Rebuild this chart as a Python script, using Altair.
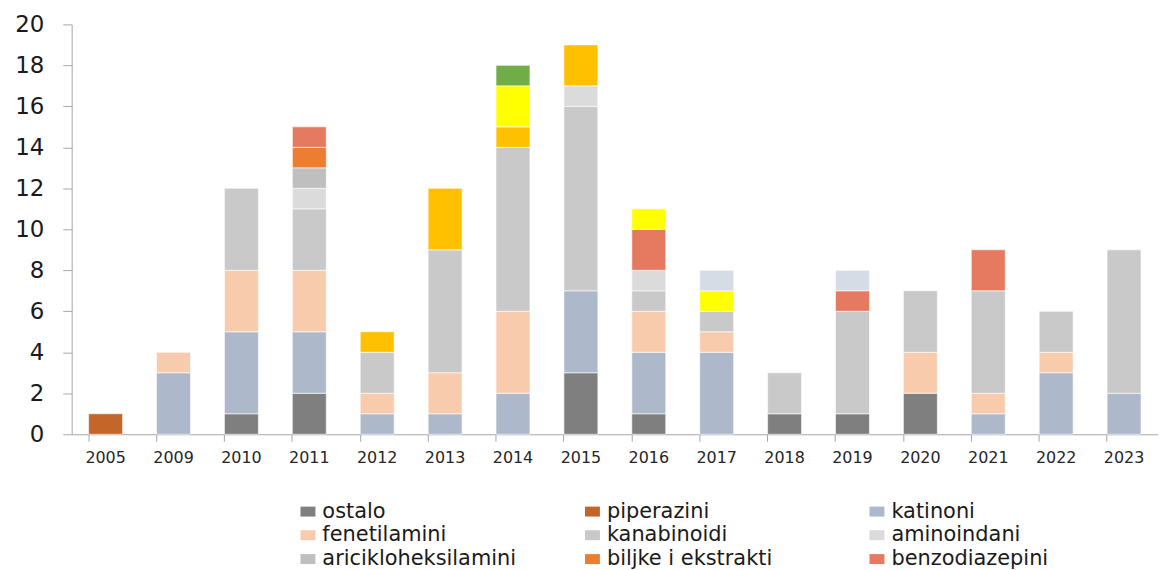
import altair as alt
import pandas as pd

years = ["2005", "2009", "2010", "2011", "2012", "2013", "2014", "2015",
         "2016", "2017", "2018", "2019", "2020", "2021", "2022", "2023"]

ostalo          = [0, 0, 1, 2, 0, 0, 0, 3, 1, 0, 1, 1, 2, 0, 0, 0]
piperazini      = [1, 0, 0, 0, 0, 0, 0, 0, 0, 0, 0, 0, 0, 0, 0, 0]
katinoni        = [0, 3, 4, 3, 1, 1, 2, 4, 3, 4, 0, 0, 0, 1, 3, 2]
fenetilamini    = [0, 1, 3, 3, 1, 2, 4, 0, 2, 1, 0, 0, 2, 1, 1, 0]
kanabinoidi     = [0, 0, 4, 3, 2, 6, 8, 9, 1, 1, 2, 5, 3, 5, 2, 7]
aminoindani     = [0, 0, 0, 1, 0, 0, 0, 1, 1, 0, 0, 0, 0, 0, 0, 0]
ariciklo        = [0, 0, 0, 1, 0, 0, 0, 0, 0, 0, 0, 0, 0, 0, 0, 0]
biljke          = [0, 0, 0, 1, 0, 0, 0, 0, 0, 0, 0, 0, 0, 0, 0, 0]
benzodiazepini  = [0, 0, 0, 1, 0, 0, 0, 0, 2, 0, 0, 1, 0, 2, 0, 0]
triptamini      = [0, 0, 0, 0, 1, 3, 1, 2, 0, 0, 0, 0, 0, 0, 0, 0]
opioidi         = [0, 0, 0, 0, 0, 0, 2, 0, 1, 1, 0, 0, 0, 0, 0, 0]
piperidini      = [0, 0, 0, 0, 0, 0, 1, 0, 0, 0, 0, 0, 0, 0, 0, 0]
arilalkilamini  = [0, 0, 0, 0, 0, 0, 0, 0, 0, 1, 0, 1, 0, 0, 0, 0]

series_names = ["ostalo", "piperazini", "katinoni", "fenetilamini", "kanabinoidi",
                "aminoindani", "aricikloheksilamini", "biljke i ekstrakti",
                "benzodiazepini", "triptamini", "opioidi",
                "piperidini i pirolidini", "arilalkilamini"]
series_values = [ostalo, piperazini, katinoni, fenetilamini, kanabinoidi,
                 aminoindani, ariciklo, biljke, benzodiazepini, triptamini,
                 opioidi, piperidini, arilalkilamini]
series_colors = ["#7F7F7F", "#C4652A", "#ADB9CA", "#F8CBAD", "#C9C9C9",
                 "#DBDBDB", "#BFBFBF", "#ED7D31", "#E57A60", "#FFC000",
                 "#FFFF00", "#70AD47", "#D6DCE5"]
# legend entries (filled column by column: shows rows
# ostalo/piperazini/katinoni, fenetilamini/kanabinoidi/aminoindani, ...)
legend_names = ["ostalo", "fenetilamini", "aricikloheksilamini",
                "piperazini", "kanabinoidi", "biljke i ekstrakti",
                "katinoni", "aminoindani", "benzodiazepini"]

rows = []
for i, (name, vals) in enumerate(zip(series_names, series_values)):
    for y, v in zip(years, vals):
        if v > 0:
            rows.append({"godina": y, "skupina": name, "broj": v, "ord": i})
df = pd.DataFrame(rows)

FONT = "DejaVu Sans"
RECT = "M-1,-0.667L1,-0.667L1,0.667L-1,0.667Z"

chart = alt.Chart(df).mark_bar(stroke="white", strokeWidth=0.6).encode(
    x=alt.X("godina:N", sort=years, title=None,
            scale=alt.Scale(domain=years, paddingInner=0.5, paddingOuter=0.25),
            axis=alt.Axis(labelAngle=0, bandPosition=0, tickSize=7,
                          labelPadding=8, labelFontSize=16, labelColor="#262626",
                          labelFont=FONT, domainColor="#A6A6A6", tickColor="#A6A6A6",
                          grid=False)),
    y=alt.Y("broj:Q", stack="zero", title=None,
            scale=alt.Scale(domain=[0, 20], nice=False),
            axis=alt.Axis(values=list(range(0, 21, 2)), tickSize=9, labelPadding=19,
                          labelFontSize=23, labelColor="#1A1A1A", labelFont=FONT,
                          domainColor="#A6A6A6", tickColor="#A6A6A6", grid=False)),
    color=alt.Color("skupina:N",
                    scale=alt.Scale(domain=series_names, range=series_colors),
                    legend=alt.Legend(values=legend_names, title=None, orient="none",
                                      legendX=227, legendY=479, columns=3,
                                      gridAlign="all", columnPadding=66,
                                      rowPadding=2, symbolType=RECT,
                                      symbolSize=225, symbolStrokeWidth=0,
                                      labelOffset=4,
                                      labelFontSize=21, labelFont=FONT,
                                      labelColor="#1A1A1A", labelLimit=400,
                                      padding=0)),
    order=alt.Order("ord:Q", sort="ascending"),
).properties(
    width=1092, height=412, background="white",
    padding={"left": 6, "top": 4, "right": 0, "bottom": 0},
).configure_view(strokeWidth=0, stroke="transparent")

chart.save("out.html", embed_options={"renderer": "svg", "actions": False})
